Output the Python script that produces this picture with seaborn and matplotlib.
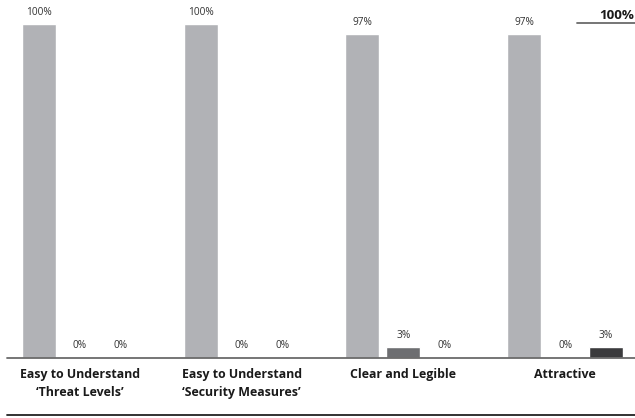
import pandas as pd
import seaborn as sns
import matplotlib.pyplot as plt

categories = [
    "Easy to Understand\n\u2018Threat Levels\u2019",
    "Easy to Understand\n\u2018Security Measures\u2019",
    "Clear and Legible",
    "Attractive",
]
responses = ["Yes", "Neutral", "No"]
yes_values = [100, 100, 97, 97]
neutral_values = [0, 0, 3, 0]
no_values = [0, 0, 0, 3]

palette = ["#b1b2b6", "#6d6e71", "#3b3b3d"]

df = pd.DataFrame({
    "category": categories * 3,
    "response": [r for r in responses for _ in categories],
    "value": yes_values + neutral_values + no_values,
})

sns.set_style("white")
plt.rcParams["font.family"] = ["Open Sans", "DejaVu Sans"]

W, H = 635, 418
fig = plt.figure(figsize=(W / 100, H / 100), dpi=100)
base_px = 357.5
top_px = 24
ax = fig.add_axes([0, (H - base_px) / H, 1, base_px / H])
unit = (base_px - top_px) / 100

sns.barplot(
    data=df, x="category", y="value", hue="response",
    order=categories, hue_order=responses, palette=palette,
    width=0.76, gap=0.17, ax=ax, legend=False, saturation=1,
)

group_px = 161.7
ax.set_xlim(-80 / group_px, (W - 80) / group_px)
ax.set_ylim(0, base_px / unit)
ax.axis("off")

for container in ax.containers:
    ax.bar_label(container, labels=[f"{v:.0f}%" for v in container.datavalues],
                 padding=4.5, fontsize=7.3, color="#333333")

# category labels under the baseline
for i, cat in enumerate(categories):
    fig.text((80 + i * group_px) / W, 1 - 368 / H, cat, ha="center", va="top",
             fontsize=8.9, fontweight="bold", color="#1a1a1a", linespacing=1.5)

# baseline and bottom rule
fig.add_artist(plt.Line2D([7 / W, 1], [1 - base_px / H] * 2, color="#6a6a6a", lw=1.3))
fig.add_artist(plt.Line2D([7 / W, 1], [1 - 415 / H] * 2, color="#222222", lw=1.3))

# 100% scale marker top right
fig.add_artist(plt.Line2D([577 / W, 1], [1 - 23 / H] * 2, color="#6a6a6a", lw=1.3))
fig.text(634 / W, 1 - 19 / H, "100%", ha="right", va="baseline",
         fontsize=9.6, fontweight="bold", color="#1a1a1a")

fig.savefig("out.png", dpi=100)
